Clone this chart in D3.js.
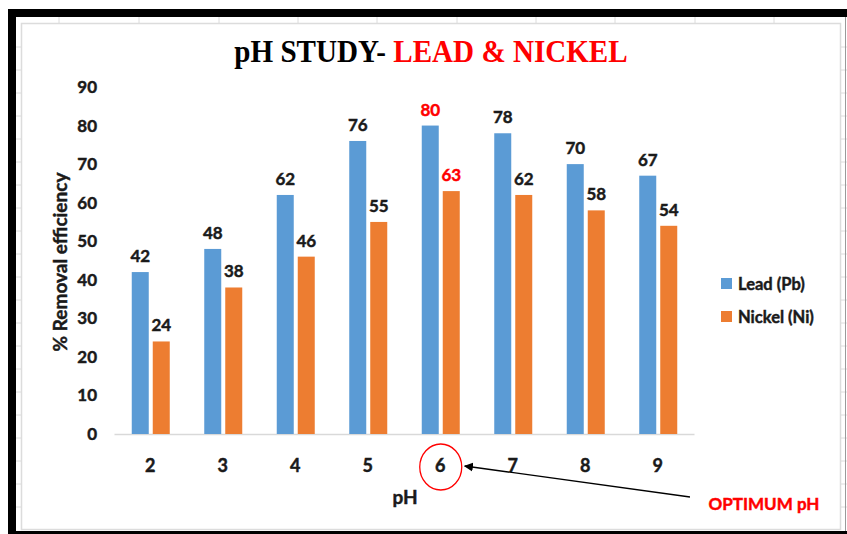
<!DOCTYPE html>
<html>
<head>
<meta charset="utf-8">
<script src="https://cdn.jsdelivr.net/npm/d3@7"></script>
<style>
  html, body { margin: 0; padding: 0; background: #fff; }
  svg { display: block; }
  text { font-family: Lato, "Open Sans", sans-serif; }
  .heavy { stroke-width: 0.45px; paint-order: stroke; }
</style>
</head>
<body>
<svg id="chart" width="847" height="534"></svg>
<script>
// pH levels tested
const phLevels = ["2", "3", "4", "5", "6", "7", "8", "9"];
// % removal efficiency per metal
const leadValues = [42, 48, 62, 76, 80, 78, 70, 67];
const nickelValues = [24, 38, 46, 55, 63, 62, 58, 54];
const seriesNames = ["Lead (Pb)", "Nickel (Ni)"];
const yTicks = [0, 10, 20, 30, 40, 50, 60, 70, 80, 90];
const optimumPh = "6";

const colors = ["#5b9bd5", "#ed7d31"];
const textColor = "#1a1a1a";
const red = "#ff0000";

const svg = d3.select("#chart");

// ---- sheet background: frame and cell grid ----
const grid = svg.append("g");
const gridColor = "#dcdcdc";
// column marks in the strip above the chart
[59, 139, 219, 298, 377, 457, 536, 615, 695, 774].forEach(x => {
  grid.append("line").attr("x1", x).attr("x2", x).attr("y1", 17).attr("y2", 23)
    .attr("stroke", gridColor).attr("stroke-width", 1);
});
// row marks in the side strips
d3.range(47, 530, 23).forEach(y => {
  grid.append("line").attr("x1", 16).attr("x2", 21).attr("y1", y).attr("y2", y)
    .attr("stroke", gridColor);
  grid.append("line").attr("x1", 841).attr("x2", 847).attr("y1", y).attr("y2", y)
    .attr("stroke", gridColor);
});
// chart area border
grid.append("rect").attr("x", 21.5).attr("y", 23.5).attr("width", 819).attr("height", 506)
  .attr("fill", "#fff").attr("stroke", gridColor).attr("stroke-width", 1.5);
grid.append("line").attr("x1", 845.5).attr("x2", 845.5).attr("y1", 17).attr("y2", 531)
  .attr("stroke", "#9a9a9a").attr("stroke-width", 1);
// thick black frame
grid.append("rect").attr("x", 8).attr("y", 9).attr("width", 839).attr("height", 8).attr("fill", "#000");
grid.append("rect").attr("x", 8).attr("y", 9).attr("width", 8).attr("height", 525).attr("fill", "#000");
grid.append("rect").attr("x", 8).attr("y", 531).attr("width", 839).attr("height", 3).attr("fill", "#000");

// ---- title ----
const title = svg.append("text")
  .attr("transform", "translate(431,62) scale(0.97,1.08)")
  .attr("text-anchor", "middle")
  .style("font-family", "'Liberation Serif', 'DejaVu Serif', serif")
  .style("font-weight", "bold")
  .style("font-size", "30px");
title.append("tspan").attr("fill", "#000").text("pH STUDY- ");
title.append("tspan").attr("fill", red).text("LEAD & NICKEL");

// ---- scales ----
const x = d3.scaleBand().domain(phLevels).range([114, 694]);
const y = d3.scaleLinear().domain([0, 90]).range([434, 87]);

// ---- axes ----
const yAxis = svg.append("g")
  .attr("transform", "translate(98,0)")
  .call(d3.axisLeft(y).tickValues(yTicks).tickSize(0).tickPadding(1));
yAxis.select(".domain").remove();
yAxis.selectAll("text")
  .attr("class", "heavy").attr("stroke", textColor)
  .style("font-family", "Lato, sans-serif")
  .style("font-weight", "bold").style("font-size", "17px").attr("fill", textColor);

const xAxis = svg.append("g")
  .attr("transform", "translate(0,434)")
  .call(d3.axisBottom(x).tickSize(0).tickPadding(0));
xAxis.select(".domain").attr("stroke", "#d9d9d9").attr("stroke-width", 1.5);
xAxis.selectAll("text")
  .attr("dy", "38px")
  .attr("class", "heavy").attr("stroke", textColor)
  .style("font-family", "Lato, sans-serif")
  .style("font-weight", "bold").style("font-size", "18px").attr("fill", textColor);

// axis titles
svg.append("text")
  .attr("x", 405).attr("y", 504)
  .attr("text-anchor", "middle")
  .attr("class", "heavy").attr("stroke", textColor)
  .style("font-weight", "bold").style("font-size", "19px")
  .attr("fill", textColor).text("pH");

svg.append("text")
  .attr("transform", "translate(67,262) rotate(-90)")
  .attr("text-anchor", "middle")
  .attr("class", "heavy").attr("stroke", textColor)
  .style("font-weight", "bold").style("font-size", "19px")
  .attr("fill", textColor).text("% Removal efficiency");

// ---- bars ----
const barW = 17, innerGap = 4;
const series = [leadValues, nickelValues];
series.forEach((vals, si) => {
  const offset = si === 0 ? -(barW + innerGap / 2) : innerGap / 2;
  const g = svg.append("g");
  g.selectAll("rect")
    .data(phLevels.map((p, i) => ({ p, v: vals[i] })))
    .join("rect")
    .attr("x", d => x(d.p) + x.bandwidth() / 2 + offset + 0.5)
    .attr("y", d => y(d.v))
    .attr("width", barW)
    .attr("height", d => y(0) - y(d.v))
    .attr("fill", colors[si]);
  g.selectAll("text")
    .data(phLevels.map((p, i) => ({ p, v: vals[i] })))
    .join("text")
    .attr("x", d => x(d.p) + x.bandwidth() / 2 + offset + 0.5 + barW / 2)
    .attr("y", d => y(d.v) - 10)
    .attr("text-anchor", "middle")
    .attr("class", "heavy")
    .attr("stroke", d => d.p === optimumPh ? red : textColor)
    .style("font-weight", "bold").style("font-size", "17px")
    .attr("fill", d => d.p === optimumPh ? red : textColor)
    .text(d => d.v);
});

// ---- legend ----
const legend = svg.append("g").attr("transform", "translate(721,278)");
seriesNames.forEach((name, i) => {
  const row = legend.append("g").attr("transform", `translate(0,${i * 33})`);
  row.append("rect").attr("width", 11).attr("height", 11).attr("fill", colors[i]);
  row.append("text").attr("x", 17).attr("y", 6).attr("dy", "0.35em")
    .attr("class", "heavy").attr("stroke", textColor)
    .style("font-weight", "bold").style("font-size", "16.5px")
    .attr("fill", textColor).text(name);
});

// ---- optimum pH annotation ----
const cx = x(optimumPh) + x.bandwidth() / 2 + 0.5;
svg.append("ellipse")
  .attr("cx", cx).attr("cy", 467)
  .attr("rx", 21).attr("ry", 23)
  .attr("fill", "none").attr("stroke", red).attr("stroke-width", 1.3);

svg.append("defs").append("marker")
  .attr("id", "arrowhead")
  .attr("viewBox", "0 0 10 10")
  .attr("refX", 9).attr("refY", 5)
  .attr("markerWidth", 7).attr("markerHeight", 7)
  .attr("orient", "auto")
  .append("path").attr("d", "M0,0 L10,5 L0,10 z").attr("fill", "#000");

svg.append("line")
  .attr("x1", 690).attr("y1", 497)
  .attr("x2", cx + 24).attr("y2", 466)
  .attr("stroke", "#000").attr("stroke-width", 1.3)
  .attr("marker-end", "url(#arrowhead)");

svg.append("text")
  .attr("x", 764).attr("y", 504).attr("dy", "0.35em")
  .attr("text-anchor", "middle")
  .attr("class", "heavy").attr("stroke", red)
  .style("font-weight", "bold").style("font-size", "17px")
  .attr("fill", red).text("OPTIMUM pH");
</script>
</body>
</html>
